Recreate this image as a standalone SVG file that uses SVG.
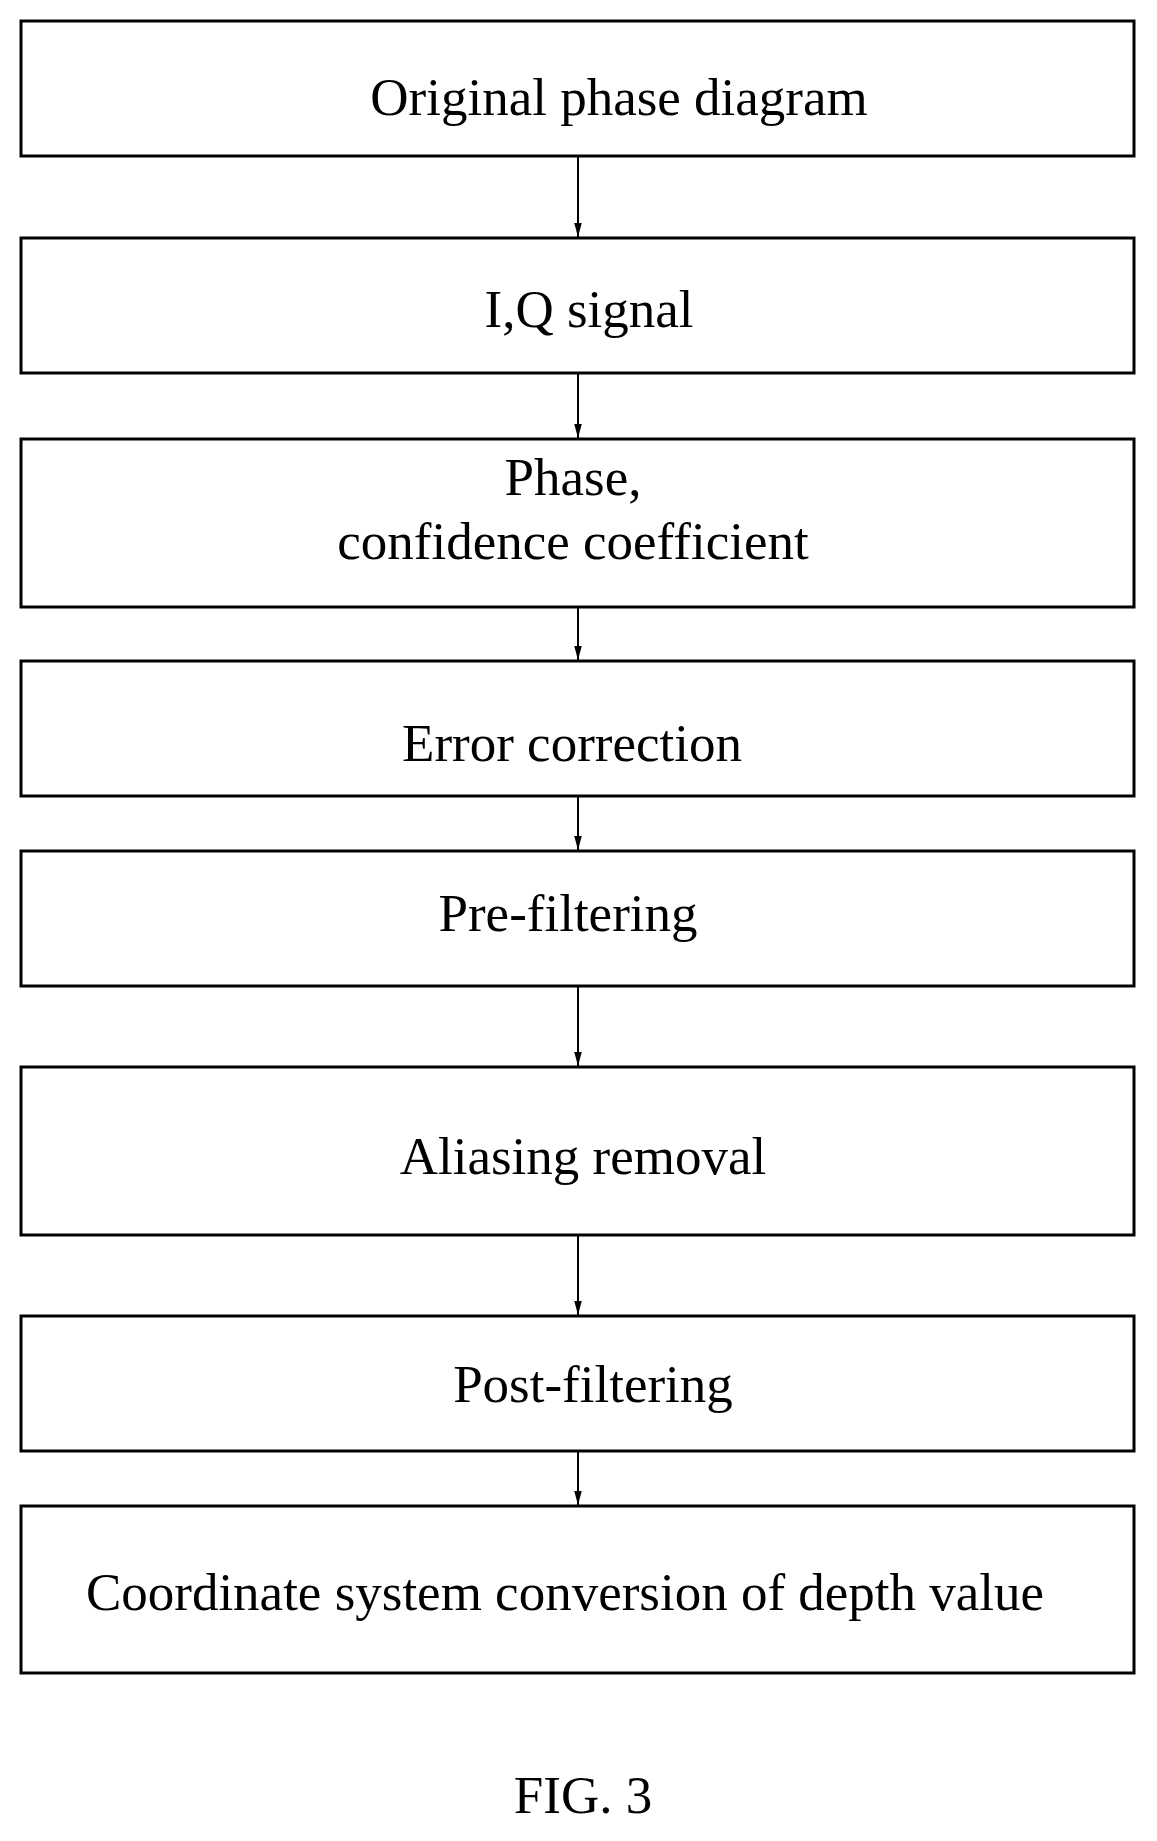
<svg xmlns="http://www.w3.org/2000/svg" width="1157" height="1841" viewBox="0 0 1157 1841">
<style>
rect{fill:#fff;stroke:#000;stroke-width:3}
text{font-family:"Liberation Serif",serif;font-size:53px;text-anchor:middle;fill:#000}
.c{stroke:#000;stroke-width:2;fill:none}
</style>
<defs><marker id="a" markerWidth="14" markerHeight="26" refX="14" refY="7" orient="auto" markerUnits="userSpaceOnUse"><path d="M0,0L26,7L0,14z" transform="translate(-12,0)" fill="#000"/></marker></defs>
<rect width="1157" height="1841" style="stroke:none"/>
<g id="connectors">
<line class="c" x1="578" y1="157" x2="578" y2="237" marker-end="url(#a)"/>
<line class="c" x1="578" y1="374" x2="578" y2="438" marker-end="url(#a)"/>
<line class="c" x1="578" y1="608" x2="578" y2="660" marker-end="url(#a)"/>
<line class="c" x1="578" y1="797" x2="578" y2="850" marker-end="url(#a)"/>
<line class="c" x1="578" y1="987" x2="578" y2="1066" marker-end="url(#a)"/>
<line class="c" x1="578" y1="1236" x2="578" y2="1315" marker-end="url(#a)"/>
<line class="c" x1="578" y1="1452" x2="578" y2="1505" marker-end="url(#a)"/>
</g>
<g id="n1"><rect x="21" y="21" width="1113" height="135"/><text x="619" y="115">Original phase diagram</text></g>
<g id="n2"><rect x="21" y="238" width="1113" height="135"/><text x="589" y="327">I,Q signal</text></g>
<g id="n3"><rect x="21" y="439" width="1113" height="168"/><text x="573" y="495">Phase,</text><text x="573" y="559">confidence coefficient</text></g>
<g id="n4"><rect x="21" y="661" width="1113" height="135"/><text x="572" y="761">Error correction</text></g>
<g id="n5"><rect x="21" y="851" width="1113" height="135"/><text x="568" y="931">Pre-filtering</text></g>
<g id="n6"><rect x="21" y="1067" width="1113" height="168"/><text x="583" y="1174">Aliasing removal</text></g>
<g id="n7"><rect x="21" y="1316" width="1113" height="135"/><text x="593" y="1402">Post-filtering</text></g>
<g id="n8"><rect x="21" y="1506" width="1113" height="167"/><text x="565" y="1610">Coordinate system conversion of depth value</text></g>
<text x="583" y="1813">FIG. 3</text>
</svg>
